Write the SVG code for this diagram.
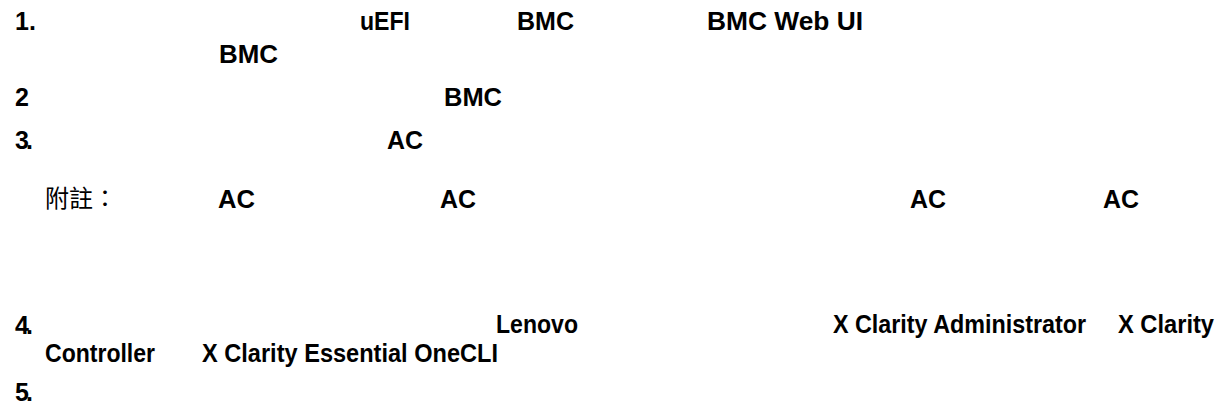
<svg xmlns="http://www.w3.org/2000/svg" width="1226" height="411" viewBox="0 0 1226 411">
<style>
.t{font-family:"Liberation Sans",Arial,sans-serif;font-weight:bold;font-size:25px;fill:#000}
.n{letter-spacing:-3px}
.c{font-family:"Noto Sans CJK TC","Noto Sans CJK SC",sans-serif;font-size:24px;fill:#000}
</style>
<rect width="1226" height="411" fill="#fff"/>
<g id="step1">
<text class="t" x="15" y="30">1.</text>
<text class="t" x="360" y="30" textLength="50" lengthAdjust="spacingAndGlyphs">uEFI</text>
<text class="t" x="517" y="30" textLength="57" lengthAdjust="spacingAndGlyphs">BMC</text>
<text class="t" x="707" y="30" textLength="156" lengthAdjust="spacingAndGlyphs">BMC Web UI</text>
<text class="t" x="219" y="63" textLength="59" lengthAdjust="spacingAndGlyphs">BMC</text>
</g>
<g id="step2">
<text class="t" x="15" y="106">2</text>
<text class="t" x="444" y="106" textLength="58" lengthAdjust="spacingAndGlyphs">BMC</text>
</g>
<g id="step3">
<text class="t n" x="15" y="149">3.</text>
<text class="t" x="387" y="149" textLength="36" lengthAdjust="spacingAndGlyphs">AC</text>
</g>
<g id="note">
<text class="c" x="45" y="207">附註：</text>
<text class="t" x="218" y="208" textLength="37" lengthAdjust="spacingAndGlyphs">AC</text>
<text class="t" x="440" y="208" textLength="36" lengthAdjust="spacingAndGlyphs">AC</text>
<text class="t" x="910" y="208" textLength="36" lengthAdjust="spacingAndGlyphs">AC</text>
<text class="t" x="1103" y="208" textLength="36" lengthAdjust="spacingAndGlyphs">AC</text>
</g>
<g id="step4">
<text class="t n" x="15" y="334">4.</text>
<text class="t" x="496" y="333" textLength="82" lengthAdjust="spacingAndGlyphs">Lenovo</text>
<text class="t" x="833" y="333" textLength="253" lengthAdjust="spacingAndGlyphs">X Clarity Administrator</text>
<text class="t" x="1118" y="333" textLength="96" lengthAdjust="spacingAndGlyphs">X Clarity</text>
<text class="t" x="45" y="362" textLength="110" lengthAdjust="spacingAndGlyphs">Controller</text>
<text class="t" x="202" y="362" textLength="296" lengthAdjust="spacingAndGlyphs">X Clarity Essential OneCLI</text>
</g>
<g id="step5">
<text class="t n" x="15" y="401">5.</text>
</g>
</svg>
